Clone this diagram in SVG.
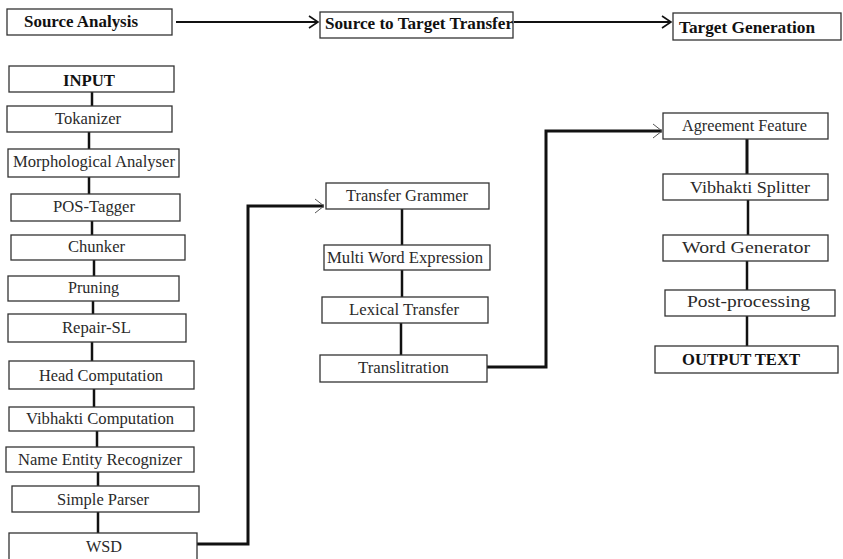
<svg xmlns="http://www.w3.org/2000/svg" width="843" height="559" viewBox="0 0 843 559">
<defs>
<style>
.box{fill:#fff;stroke:#333;stroke-width:1.3}
.t{font-family:"Liberation Serif","Times New Roman",serif;font-size:16px;fill:#2a2a2a}
.b{font-family:"Liberation Serif","Times New Roman",serif;font-size:16px;font-weight:bold;fill:#111}
.lnk{stroke:#111;stroke-width:2.5;fill:none}
.con{stroke:#111;stroke-width:3;fill:none}
.top{stroke:#111;stroke-width:2.2;fill:none}
</style>
<marker id="ah" markerUnits="userSpaceOnUse" markerWidth="12" markerHeight="14" refX="10" refY="7" orient="auto">
<path d="M1,1 L10,7 L1,13" fill="none" stroke="#111" stroke-width="1.6"/>
</marker>
<marker id="as" markerUnits="userSpaceOnUse" markerWidth="12" markerHeight="16" refX="10" refY="8" orient="auto">
<path d="M1,1 L10,8 L1,15" fill="none" stroke="#555" stroke-width="1"/>
</marker>
</defs>
<rect width="843" height="559" fill="#fff"/>

<g id="connectors">
<line class="top" x1="176" y1="22" x2="318" y2="22" marker-end="url(#ah)"/>
<line class="top" x1="514" y1="22" x2="671" y2="22" marker-end="url(#ah)"/>
<line class="lnk" x1="92" y1="92" x2="92" y2="106"/>
<line class="lnk" x1="89" y1="132" x2="89" y2="149"/>
<line class="lnk" x1="89" y1="177" x2="89" y2="194"/>
<line class="lnk" x1="92" y1="221" x2="92" y2="235"/>
<line class="lnk" x1="94" y1="260" x2="94" y2="276"/>
<line class="lnk" x1="93" y1="301" x2="93" y2="314"/>
<line class="lnk" x1="92" y1="342" x2="92" y2="361"/>
<line class="lnk" x1="94" y1="389" x2="94" y2="407"/>
<line class="lnk" x1="97" y1="431" x2="97" y2="447"/>
<line class="lnk" x1="98" y1="472" x2="98" y2="486"/>
<line class="lnk" x1="98" y1="512" x2="98" y2="533"/>
<polyline class="con" points="197,544 248,544 248,206 324,206" marker-end="url(#as)"/>
<line class="lnk" x1="402" y1="209" x2="402" y2="245"/>
<line class="lnk" x1="402" y1="270" x2="402" y2="297"/>
<line class="lnk" x1="401" y1="323" x2="401" y2="355"/>
<polyline class="con" points="487,367 546,367 546,131 662,131" marker-end="url(#as)"/>
<line stroke="#111" stroke-width="3" x1="747" y1="139" x2="747" y2="174"/>
<line class="lnk" x1="748" y1="200" x2="748" y2="235"/>
<line class="lnk" x1="747" y1="261" x2="747" y2="290"/>
<line class="lnk" x1="747" y1="316" x2="747" y2="346"/>
</g>

<g id="source-analysis"><rect class="box" x="7" y="9" width="165" height="26"/><text class="b" x="24" y="27" textLength="114" lengthAdjust="spacingAndGlyphs">Source Analysis</text></g>
<g id="source-to-target"><rect class="box" x="320" y="12" width="193" height="26"/><text class="b" x="325" y="29" textLength="188" lengthAdjust="spacingAndGlyphs">Source to Target Transfer</text></g>
<g id="target-generation"><rect class="box" x="673" y="13" width="168" height="27"/><text class="b" x="679" y="33" textLength="136" lengthAdjust="spacingAndGlyphs">Target Generation</text></g>

<g id="input"><rect class="box" x="9" y="66" width="165" height="26"/><text class="b" x="63" y="86" textLength="52" lengthAdjust="spacingAndGlyphs">INPUT</text></g>
<g id="tokanizer"><rect class="box" x="7" y="106" width="165" height="26"/><text class="t" x="55" y="124" textLength="66" lengthAdjust="spacingAndGlyphs">Tokanizer</text></g>
<g id="morph"><rect class="box" x="8" y="149" width="171" height="28"/><text class="t" x="13" y="167" textLength="162" lengthAdjust="spacingAndGlyphs">Morphological Analyser</text></g>
<g id="pos"><rect class="box" x="11" y="194" width="169" height="27"/><text class="t" x="53" y="212" textLength="82" lengthAdjust="spacingAndGlyphs">POS-Tagger</text></g>
<g id="chunker"><rect class="box" x="11" y="235" width="174" height="25"/><text class="t" x="68" y="252" textLength="57" lengthAdjust="spacingAndGlyphs">Chunker</text></g>
<g id="pruning"><rect class="box" x="8" y="276" width="171" height="25"/><text class="t" x="68" y="293" textLength="51" lengthAdjust="spacingAndGlyphs">Pruning</text></g>
<g id="repair"><rect class="box" x="8" y="314" width="178" height="28"/><text class="t" x="62" y="333" textLength="69" lengthAdjust="spacingAndGlyphs">Repair-SL</text></g>
<g id="head"><rect class="box" x="9" y="361" width="185" height="28"/><text class="t" x="39" y="381" textLength="124" lengthAdjust="spacingAndGlyphs">Head Computation</text></g>
<g id="vibhakti-comp"><rect class="box" x="9" y="407" width="185" height="24"/><text class="t" x="26" y="424" textLength="148" lengthAdjust="spacingAndGlyphs">Vibhakti Computation</text></g>
<g id="ner"><rect class="box" x="6" y="447" width="188" height="25"/><text class="t" x="18" y="465" textLength="164" lengthAdjust="spacingAndGlyphs">Name Entity Recognizer</text></g>
<g id="simple-parser"><rect class="box" x="12" y="486" width="187" height="26"/><text class="t" x="57" y="505" textLength="92" lengthAdjust="spacingAndGlyphs">Simple Parser</text></g>
<g id="wsd"><rect class="box" x="9" y="533" width="188" height="28"/><text class="t" x="86" y="552" textLength="36" lengthAdjust="spacingAndGlyphs">WSD</text></g>

<g id="transfer-grammer"><rect class="box" x="326" y="183" width="163" height="26"/><text class="t" x="346" y="201" textLength="122" lengthAdjust="spacingAndGlyphs">Transfer Grammer</text></g>
<g id="mwe"><rect class="box" x="324" y="245" width="166" height="25"/><text class="t" x="327" y="263" textLength="156" lengthAdjust="spacingAndGlyphs">Multi Word Expression</text></g>
<g id="lexical"><rect class="box" x="322" y="297" width="166" height="26"/><text class="t" x="349" y="315" textLength="110" lengthAdjust="spacingAndGlyphs">Lexical Transfer</text></g>
<g id="translitration"><rect class="box" x="320" y="355" width="167" height="27"/><text class="t" x="358" y="373" textLength="91" lengthAdjust="spacingAndGlyphs">Translitration</text></g>

<g id="agreement"><rect class="box" x="663" y="113" width="165" height="26"/><text class="t" x="682" y="131" textLength="125" lengthAdjust="spacingAndGlyphs">Agreement Feature</text></g>
<g id="vibhakti-splitter"><rect class="box" x="663" y="174" width="165" height="26"/><text class="t" x="690" y="193" textLength="120" lengthAdjust="spacingAndGlyphs">Vibhakti Splitter</text></g>
<g id="word-generator"><rect class="box" x="663" y="235" width="165" height="26"/><text class="t" x="682" y="253" textLength="128" lengthAdjust="spacingAndGlyphs">Word Generator</text></g>
<g id="post-processing"><rect class="box" x="665" y="290" width="170" height="26"/><text class="t" x="687" y="307" textLength="123" lengthAdjust="spacingAndGlyphs">Post-processing</text></g>
<g id="output"><rect class="box" x="655" y="346" width="183" height="27"/><text class="b" x="682" y="365" textLength="118" lengthAdjust="spacingAndGlyphs">OUTPUT TEXT</text></g>
</svg>
